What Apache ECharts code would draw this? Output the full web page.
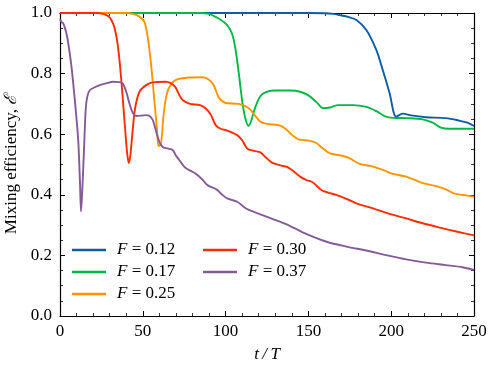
<!DOCTYPE html>
<html><head><meta charset="utf-8">
<script src="https://cdn.jsdelivr.net/npm/echarts@6/dist/echarts.min.js"></script>
<style>html,body{margin:0;padding:0;background:#fff}#c{width:494px;height:371px}</style>
</head><body><div id="c"></div>
<script>
const seriesNames = ['F = 0.12','F = 0.17','F = 0.25','F = 0.30','F = 0.37'];
const colors = ['#0C5DA5','#00B945','#FF9500','#FF2C00','#845B97'];
const xTicks = [0,50,100,150,200,250];
const yTicks = [0.0,0.2,0.4,0.6,0.8,1.0];

const tF012 = [0,150,160,165,169,174,179,185,191,195,199,203,207,212,221,233,241,246,250];
const eF012 = [1.0,1.0,0.999,0.997,0.993,0.987,0.977,0.944,0.878,0.81,0.736,0.658,0.668,0.662,0.656,0.653,0.645,0.638,0.627];

const tF017 = [0,85,90,93,97,101,104,106,108,110,112,113.8,115.5,118,121,124,129,139,145,150,155,159,163,168,177,185,191,196,201,210,219,225,230,235,250];
const eF017 = [1.0,1.0,0.997,0.99,0.978,0.96,0.93,0.88,0.80,0.71,0.65,0.628,0.645,0.69,0.725,0.738,0.744,0.744,0.74,0.728,0.705,0.686,0.688,0.696,0.696,0.69,0.676,0.66,0.654,0.653,0.649,0.638,0.622,0.618,0.618];

const tF025 = [0,40,44,48,51,53,55,57,58.5,59.5,61,62.5,64,66,70,78,86,90,93,96,100,108,114,118,121,125,133,137,140,144,151,155,158,163,171,175,181,189,195,201,209,217,221,228,233,238,245,250];
const eF025 = [1.0,1.0,0.997,0.988,0.97,0.92,0.83,0.71,0.62,0.56,0.57,0.66,0.72,0.755,0.779,0.787,0.788,0.78,0.76,0.72,0.703,0.70,0.686,0.66,0.641,0.634,0.628,0.614,0.598,0.583,0.578,0.57,0.556,0.537,0.528,0.52,0.502,0.493,0.482,0.469,0.46,0.443,0.436,0.427,0.418,0.405,0.398,0.394];

const tF030 = [0,22,26,29,31,33,35,37,39,40.5,41.5,42.5,44,45.5,48,52,56,64,67,69.5,72,74,78.5,84.5,88,91,94,97,101,107,110,113,117,121,124,128,133,137,141,145,149,152,155,158,162,166,169,179,189,199,209,219,230,240,250];
const eF030 = [1.0,1.0,0.997,0.99,0.977,0.95,0.89,0.78,0.64,0.54,0.505,0.53,0.62,0.69,0.74,0.762,0.771,0.773,0.768,0.757,0.73,0.713,0.70,0.696,0.685,0.665,0.63,0.618,0.612,0.597,0.58,0.553,0.545,0.54,0.525,0.506,0.497,0.492,0.478,0.46,0.448,0.443,0.43,0.415,0.407,0.401,0.396,0.372,0.355,0.337,0.322,0.306,0.291,0.278,0.266];

const tF037 = [0,1,2,3,4,5,7,9,11,12,12.7,13.5,14.5,15.5,16.5,18,21,24,28,32,36,38,40,42,44,46,52,54,56,58,60,62,65,68,70,72,75.5,80,83,86,89,94.5,98,101,107,111,114,117,129,139,149,161,173,185,197,209,221,233,243,250];
const eF037 = [0.98,0.97,0.965,0.95,0.93,0.90,0.82,0.71,0.58,0.45,0.345,0.42,0.55,0.68,0.725,0.745,0.755,0.762,0.768,0.773,0.772,0.766,0.74,0.70,0.67,0.66,0.663,0.66,0.647,0.61,0.575,0.558,0.553,0.548,0.53,0.515,0.49,0.476,0.465,0.45,0.432,0.418,0.40,0.388,0.377,0.36,0.35,0.344,0.319,0.297,0.27,0.245,0.229,0.216,0.201,0.187,0.176,0.168,0.161,0.152];

const tData = [tF012,tF017,tF025,tF030,tF037];
const eData = [eF012,eF017,eF025,eF030,eF037];

const FONT = '"Liberation Serif", "DejaVu Serif", serif';
const FS = 17;
const chart = echarts.init(document.getElementById('c'), null, {renderer:'canvas'});

const axisCommon = {
  axisLine:{show:true, onZero:false, lineStyle:{color:'#000', width:1.2}},
  axisTick:{show:true, inside:true, length:5, lineStyle:{color:'#000', width:1}},
  minorTick:{show:true, length:3, lineStyle:{color:'#000', width:0.8}},
  splitLine:{show:false}, minorSplitLine:{show:false}
};
function legendFmt(n){ return '{i|F}' + n.slice(1); }
const legendText = {fontFamily:FONT, fontSize:FS, color:'#000', lineHeight:22, padding:[0,0,0,6],
  rich:{i:{fontFamily:FONT, fontSize:FS, fontStyle:'italic', color:'#000', lineHeight:22}}};

chart.setOption({
  animation:false,
  backgroundColor:'#fff',
  color: colors,
  grid:{left:60, right:20, top:13, bottom:55, containLabel:false, outerBoundsMode:'none'},
  xAxis:[
    Object.assign({type:'value', min:0, max:250, interval:50, position:'bottom',
      axisLabel:{fontFamily:FONT, fontSize:FS, color:'#000', margin:7, formatter:v=>xTicks.includes(v)?String(v):''},
      name:'t\u2009/\u2009T', nameLocation:'middle', nameGap:30,
      nameTextStyle:{fontFamily:FONT, fontSize:FS, fontStyle:'italic', color:'#000'}},
      axisCommon, {minorTick:Object.assign({}, axisCommon.minorTick, {splitNumber:5})}),
    Object.assign({type:'value', min:0, max:250, interval:50, position:'top', axisLabel:{show:false}},
      axisCommon, {minorTick:Object.assign({}, axisCommon.minorTick, {splitNumber:5})})
  ],
  yAxis:[
    Object.assign({type:'value', min:0, max:1, interval:0.2, position:'left',
      axisLabel:{fontFamily:FONT, fontSize:FS, color:'#000', margin:8, formatter:v=>v.toFixed(1)},
      name:'Mixing efficiency, {i|\u2130}', nameLocation:'middle', nameGap:38,
      nameTextStyle:{fontFamily:FONT, fontSize:FS, color:'#000', rich:{i:{fontFamily:FONT, fontSize:FS, fontStyle:'italic', color:'#000'}}}},
      axisCommon, {minorTick:Object.assign({}, axisCommon.minorTick, {splitNumber:4})}),
    Object.assign({type:'value', min:0, max:1, interval:0.2, position:'right', axisLabel:{show:false}},
      axisCommon, {minorTick:Object.assign({}, axisCommon.minorTick, {splitNumber:4})})
  ],
  legend:[
    {data:seriesNames.slice(0,3), orient:'vertical', left:72, top:239, itemWidth:34, itemHeight:2.5, itemGap:0,
     icon:'rect', formatter:legendFmt, textStyle:legendText, padding:0},
    {data:seriesNames.slice(3), orient:'vertical', left:203, top:239, itemWidth:34, itemHeight:2.5, itemGap:0,
     icon:'rect', formatter:legendFmt, textStyle:legendText, padding:0}
  ],
  series: seriesNames.map((n,i)=>({
    name:n, type:'line', xAxisIndex:0, yAxisIndex:0,
    data: tData[i].map((t,j)=>[t, eData[i][j]]),
    showSymbol:false, symbol:'none', smooth:0.3,
    lineStyle:{width:1.9, color:colors[i]}, itemStyle:{color:colors[i]}, clip:true
  }))
});
</script></body></html>
